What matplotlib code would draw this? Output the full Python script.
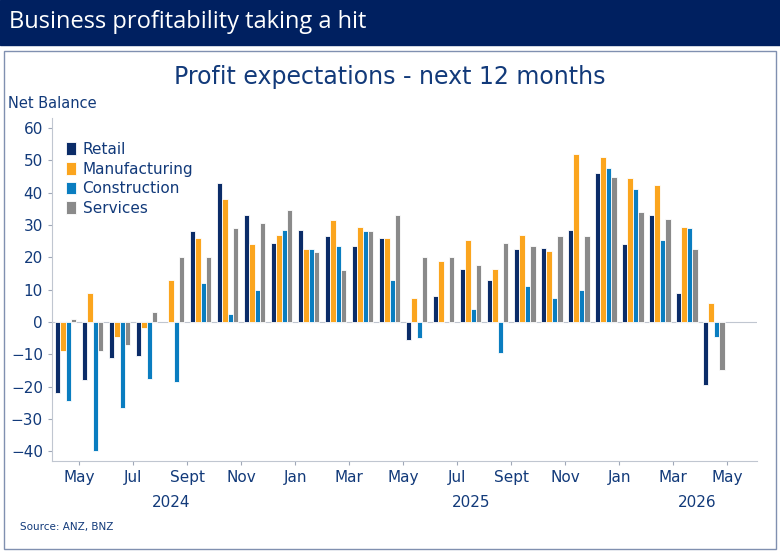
import matplotlib.pyplot as plt
import numpy as np
from matplotlib.patches import Rectangle

nan = np.nan
# Apr 2024 .. Apr 2026
retail = [-22, -18, -11, -10.5, nan, 28, 43, 33, 24.5, 28.5, 26.5, 23.5, 26,
          -5.5, 8, 16.5, 13, 22.5, 23, 28.5, 46, 24, 33, 9, -19.5]
manufacturing = [-9, 9, -4.5, -2, 13, 26, 38, 24, 27, 22.5, 31.5, 29.5, 26,
                 7.5, 19, 25.5, 16.5, 27, 22, 52, 51, 44.5, 42.5, 29.5, 6]
construction = [-24.5, -40, -26.5, -17.5, -18.5, 12, 2.5, 10, 28.5, 22.5, 23.5, 28, 13,
                -5, nan, 4, -9.5, 11, 7.5, 10, 47.5, 41, 25.5, 29, -4.5]
services = [1, -9, -7, 3, 20, 20, 29, 30.5, 34.5, 21.5, 16, 28, 33,
            20, 20, 17.5, 24.5, 23.5, 26.5, 26.5, 45, 34, 32, 22.5, -15]
series = {'Retail': (retail, '#0B2C68'),
          'Manufacturing': (manufacturing, '#FBA51E'),
          'Construction': (construction, '#0A7DC0'),
          'Services': (services, '#8A8A8A')}
tick_pos = [1, 3, 5, 7, 9, 11, 13, 15, 17, 19, 21, 23, 25]
tick_labels = ['May', 'Jul', 'Sept', 'Nov', 'Jan', 'Mar', 'May', 'Jul', 'Sept', 'Nov', 'Jan', 'Mar', 'May']
years = [(4.4, '2024'), (15.5, '2025'), (23.9, '2026')]

navy = '#123A7A'
fig = plt.figure(figsize=(7.8, 5.55), dpi=100)
fig.patches.append(Rectangle((0, 1 - 45 / 555), 1, 45 / 555, transform=fig.transFigure,
                             color='#002060', zorder=0))
fig.text(0.012, 1 - 22 / 555, 'Business profitability taking a hit', color='white',
         fontsize=17, va='center', family='Open Sans')
fig.patches.append(Rectangle((4 / 780, 6 / 555), 772 / 780, 498 / 555, transform=fig.transFigure,
                             fill=False, edgecolor='#8090B0', linewidth=1))
fig.text(0.5, 1 - 77 / 555, 'Profit expectations - next 12 months', color=navy,
         fontsize=17, ha='center', va='center')
fig.text(0.01, 1 - 104 / 555, 'Net Balance', color=navy, fontsize=10.5, va='center')
fig.text(0.025, 1 - 527 / 555, 'Source: ANZ, BNZ', color=navy, fontsize=7.5, va='center')

ax = fig.add_axes([52 / 780, 1 - 461 / 555, 705 / 780, 343 / 555])
x = np.arange(len(retail)) + 0.5
w = 0.2
for j, (name, (vals, col)) in enumerate(series.items()):
    ax.bar(x + (j - 1.5) * w, vals, w, color=col, edgecolor='white', linewidth=0.6, label=name)

ax.set_xlim(0, 26.1)
ax.set_ylim(-43, 63.1)
ax.set_yticks(range(-40, 61, 10))
ax.set_xticks(tick_pos)
ax.set_xticklabels(tick_labels)
ax.tick_params(axis='both', colors='#A0A8B8', labelcolor=navy, labelsize=11, length=3)
for t in ax.xaxis.get_major_ticks():
    t.tick1line.set_markersize(3)
for i in (4, 10):
    ax.xaxis.get_major_ticks()[i].tick1line.set_markersize(7)
for xp, lab in years:
    ax.text(xp, -0.1, lab, transform=ax.get_xaxis_transform(), ha='center', va='top',
            color=navy, fontsize=11)
for s in ('top', 'right'):
    ax.spines[s].set_visible(False)
for s in ('left', 'bottom'):
    ax.spines[s].set_color('#C0C6D0')
ax.spines['bottom'].set_position(('data', -43))
ax.axhline(0, color='#C0C6D0', linewidth=0.8, zorder=0)
leg = ax.legend(loc='upper left', bbox_to_anchor=(0.0, 0.97), frameon=False, fontsize=11,
                handlelength=0.7, handleheight=0.9, handletextpad=0.4, labelspacing=0.3)
for t in leg.get_texts():
    t.set_color(navy)
fig.savefig('out.png', dpi=100)
